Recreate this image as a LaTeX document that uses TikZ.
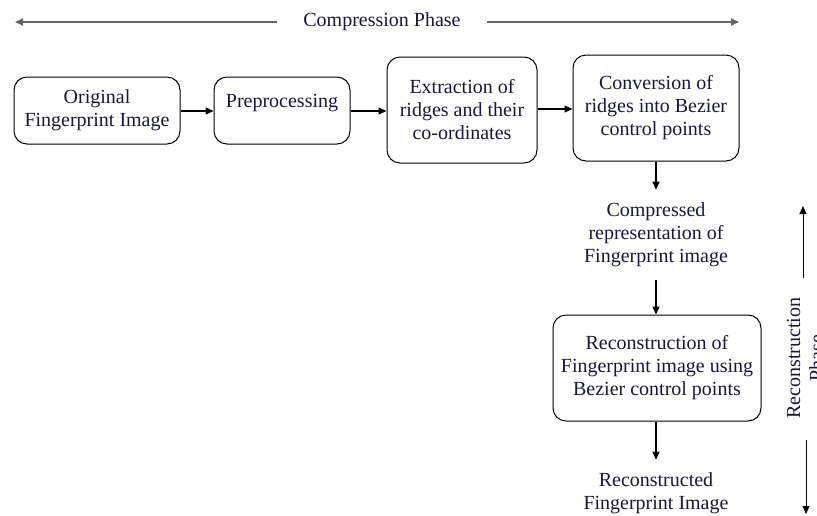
\documentclass[tikz,border=0pt]{standalone}
\usepackage{fontspec}
\setmainfont{Liberation Serif}
\usetikzlibrary{arrows.meta}
\definecolor{txt}{RGB}{25,25,55}
\tikzset{
  lbl/.style={font=\fontsize{20}{23}\selectfont, text=txt, align=center},
  box/.style={lbl, draw=black, line width=1pt, rounded corners=13pt, inner sep=0pt},
  arr/.style={-{Triangle[length=8pt,width=7pt]}, line width=1.1pt},
  phase/.style={-{Triangle[length=8pt,width=7pt]}, line width=1.8pt, draw=black!60},
}
\begin{document}
\begin{tikzpicture}[x=1pt,y=1pt]
\useasboundingbox (0,0) rectangle (817,-515);
\clip (0,0) rectangle (817,-515);
% compression phase
\node[lbl, inner xsep=26pt] (cp) at (382,-22) {Compression Phase};
\coordinate (cl) at (15,-22);
\coordinate (cr) at (739,-22);
\draw[phase] (cp.west) -- (cl);
\draw[phase] (cp.east) -- (cr);
% boxes
\node[box, minimum width=166pt, minimum height=67pt] (b1) at (97,-110.5) {Original\\Fingerprint Image};
\node[box, minimum width=136pt, minimum height=67pt, text depth=20pt] (b2) at (282,-110.5) {Preprocessing};
\node[box, minimum width=150pt, minimum height=106pt] (b3) at (462,-110) {Extraction of\\ridges and their\\co-ordinates};
\node[box, minimum width=166pt, minimum height=106pt] (b4) at (656,-108) {Conversion of\\ridges into Bezier\\control points};
\node[lbl, inner ysep=13pt] (comp) at (656,-235) {Compressed\\representation of\\Fingerprint image};
\node[box, minimum width=208pt, minimum height=106pt] (b5) at (657,-368) {Reconstruction of\\Fingerprint image using\\Bezier control points};
\node[lbl, inner ysep=13pt] (rec) at (656,-493.5) {Reconstructed\\Fingerprint Image};
% connectors
\draw[arr] (b1.east |- 0,-111) -- (b2.west |- 0,-111);
\draw[arr] (b2.east |- 0,-111) -- (b3.west |- 0,-111);
\draw[arr] (b3.east |- 0,-109) -- (b4.west |- 0,-109);
\draw[arr] (b4.south -| comp.north) -- (comp.north);
\draw[arr] (comp.south) -- (b5.north -| comp.south);
\draw[arr] (b5.south -| rec.north) -- (rec.north);
% reconstruction phase
\node[lbl, rotate=90] (rp) at (805,-358) {Reconstruction\\Phase};
\coordinate (rt) at (803,-206);
\coordinate (rs) at (803,-278);
\coordinate (rb) at (806,-514);
\coordinate (rbs) at (806,-440);
\draw[arr, line width=1pt] (rs) -- (rt);
\draw[arr, line width=1pt] (rbs) -- (rb);
\end{tikzpicture}
\end{document}
